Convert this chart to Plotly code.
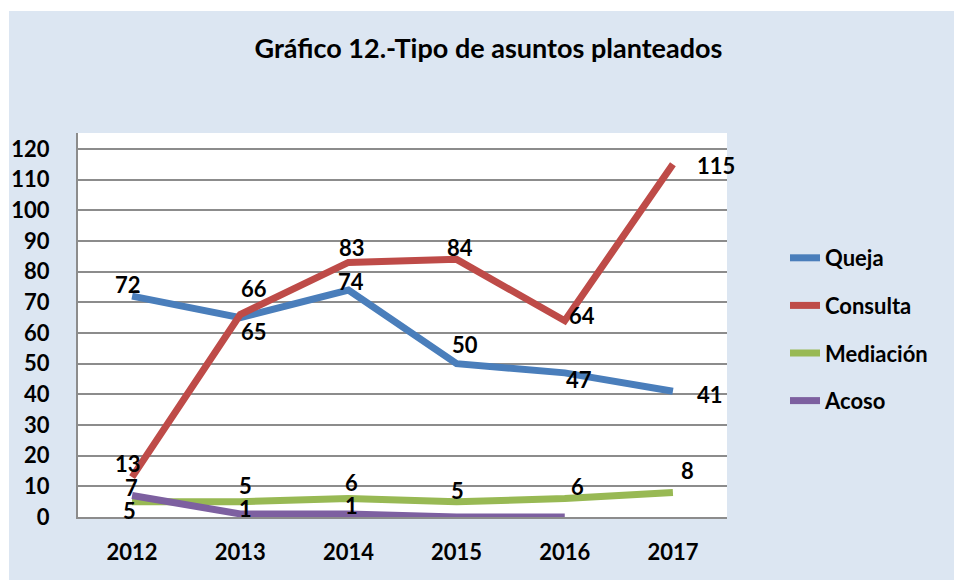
import plotly.graph_objects as go

years = ["2012", "2013", "2014", "2015", "2016", "2017"]
queja = [72, 65, 74, 50, 47, 41]
consulta = [13, 66, 83, 84, 64, 115]
mediacion = [5, 5, 6, 5, 6, 8]
acoso = [7, 1, 1, 0, 0, None]
acoso_labels = ["7", "1", "1", "", "", ""]

series_names = ["Queja", "Consulta", "Mediación", "Acoso"]
series_values = [queja, consulta, mediacion, acoso]
colors = ["#4A7EBB", "#BE4B48", "#98B954", "#7D60A0"]

# label offsets (pixels, dx right, dy down) per point
offsets = [
    [(-4, -12), (14, 14), (3, -9), (8, -19), (14, 7), (37, 3)],
    [(-4, -14), (14, -26), (4, -15), (3, -12), (17, -5), (43, 1)],
    [(-3, 9), (5, -16), (3, -16), (1, -11), (13, -12), (15, -22)],
    [(-1, -8), (5, -5), (3, -8), (0, 0), (0, 0), (0, 0)],
]

FONT = "Lato"
FS = 22
fig = go.Figure()
for i, (name, vals, col) in enumerate(zip(series_names, series_values, colors)):
    fig.add_trace(go.Scatter(
        x=years, y=vals, name=name, mode="lines",
        line=dict(color=col, width=7),
        legendgroup=name, connectgaps=False,
    ))

annotations = []
for si, vals in enumerate(series_values):
    for j, v in enumerate(vals):
        if v is None:
            continue
        txt = acoso_labels[j] if si == 3 else str(v)
        if txt == "":
            continue
        dx, dy = offsets[si][j]
        annotations.append(dict(
            x=j, y=v, xref="x", yref="y", text=txt, showarrow=False,
            xshift=dx, yshift=-dy,
            font=dict(family=FONT, size=FS, color="black", weight="bold"),
        ))

W, H = 954, 580
L, R, T, B = 78, 727, 133, 517
pw, ph = R - L, B - T

def px_x(px):
    return (px - L) / pw

def px_y(py):
    return (B - py) / ph

shapes = [
    dict(type="rect", xref="paper", yref="paper", x0=px_x(-2), x1=px_x(W + 2),
         y0=px_y(11), y1=px_y(-2), fillcolor="white", line=dict(width=0), layer="below"),
    dict(type="rect", xref="paper", yref="paper", x0=px_x(-2), x1=px_x(9),
         y0=px_y(H + 2), y1=px_y(-2), fillcolor="white", line=dict(width=0), layer="below"),
]

fig.update_layout(
    width=W, height=H,
    margin=dict(l=L, r=W - R, t=T, b=H - B, pad=0),
    paper_bgcolor="#DCE6F2",
    plot_bgcolor="white",
    font=dict(family=FONT, size=FS, color="black", weight="bold"),
    title=dict(
        text="Gráfico 12.-Tipo de asuntos planteados",
        x=488.5 / W, xanchor="center", y=1 - 49 / H, yanchor="middle",
        font=dict(family=FONT, size=27, color="black", weight="bold"),
    ),
    xaxis=dict(
        type="category", range=[-0.5, 5.5],
        showgrid=False, showline=True, linecolor="#8C8C8C", linewidth=2,
        ticks="", ticklabelstandoff=15, fixedrange=True,
        tickfont=dict(family=FONT, size=FS, weight="bold"),
    ),
    yaxis=dict(
        range=[0, 125.2], dtick=10, tick0=0,
        showgrid=True, gridcolor="#8C8C8C", gridwidth=1.5,
        showline=True, linecolor="#8C8C8C", linewidth=2,
        zeroline=False, ticks="", ticklabelstandoff=22,
        tickfont=dict(family=FONT, size=FS, weight="bold"),
    ),
    legend=dict(
        x=px_x(785), xanchor="left", y=px_y(237), yanchor="top",
        bgcolor="rgba(0,0,0,0)", tracegroupgap=16,
        font=dict(family=FONT, size=FS, weight="bold"),
    ),
    annotations=annotations,
    shapes=shapes,
    showlegend=True,
)

fig.write_html(
    "out.html",
    config={"displayModeBar": False},
    post_script=(
        "document.body.style.margin='0';"
        "document.body.style.overflow='hidden';"
        "document.documentElement.style.overflow='hidden';"
    ),
)
